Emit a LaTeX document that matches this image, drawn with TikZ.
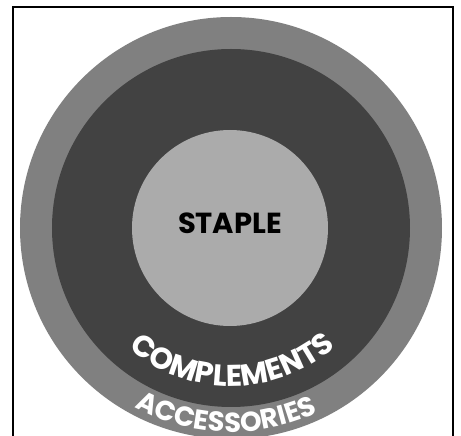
\documentclass[tikz,border=0pt]{standalone}
\usepackage{fontspec}
\newfontfamily\pop{Poppins}
\usetikzlibrary{decorations.text}
\begin{document}
\begin{tikzpicture}[x=1pt,y=1pt,
  ringouter/.style={fill=black!50},
  ringdark/.style={fill=black!74},
  corefill/.style={fill=black!33},
  framebox/.style={draw=black, line width=1.4pt}]
\useasboundingbox (-231,-208) rectangle (230,228);
\clip (-231,-208) rectangle (230,228);
\fill[white] (-231,-208) rectangle (230,228);
\draw[framebox] (-218,-230) rectangle (222,221);
\node[circle, ringouter, minimum size=422pt, inner sep=0pt] (outer) at (0,0) {};
\node[circle, ringdark, minimum size=358pt, inner sep=0pt] (dark) at (0,0) {};
\node[circle, corefill, minimum size=196pt, inner sep=0pt] (core) at (-1,0) {};
\node[font=\pop\bfseries\fontsize{29}{29}\selectfont, text=black] (staple) at (-1,5) {STAPLE};
\path[decorate, decoration={text along path, text align=center, text color=white,
  text={|\pop\bfseries\fontsize{30}{30}\selectfont|COMPLEMENTS}}]
  (dark.center) ++(200.5:158) arc[start angle=200.5, end angle=340.5, radius=158];
\path[decorate, decoration={text along path, text align=center, text color=white,
  text={|\pop\bfseries\fontsize{27.5}{27.5}\selectfont|ACCESSORIES}}]
  (outer.center) ++(213.5:204) arc[start angle=213.5, end angle=323.5, radius=204];
\end{tikzpicture}
\end{document}
